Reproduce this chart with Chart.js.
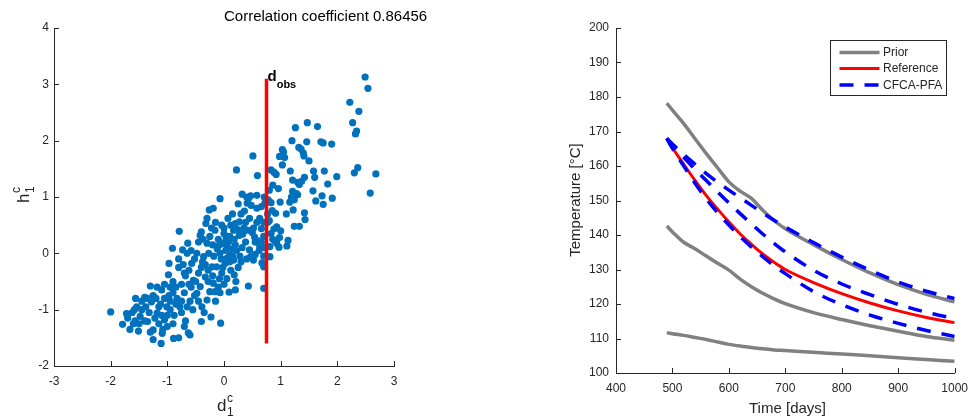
<!DOCTYPE html>
<html>
<head>
<meta charset="utf-8">
<script src="https://cdn.jsdelivr.net/npm/chart.js@4.4.1/dist/chart.umd.min.js"></script>
<style>
  html, body { margin: 0; padding: 0; background: #fff; }
  #wrap { position: relative; width: 976px; height: 420px; }
  canvas { position: absolute; top: 0; }
  #left { left: 0; }
  #right { left: 488px; }
</style>
</head>
<body>
<div id="wrap">
  <canvas id="left" width="488" height="420"></canvas>
  <canvas id="right" width="488" height="420"></canvas>
</div>
<script>
// left panel: d1c vs h1c samples
const scatterPoints = [
  [2.49,3.13],[2.54,2.93],[2.22,2.68],[2.38,2.52],[2.27,2.32],[2.34,2.17],[2.32,2.12],[2.36,1.52],[2.30,1.43],[2.68,1.41],[2.58,1.07],
  [1.47,2.32],[1.26,2.23],[1.65,2.25],[1.20,2.00],[1.46,1.98],[1.71,1.98],[1.75,1.96],[1.90,1.94],[1.32,1.88],[1.36,1.85],[1.40,1.78],[1.41,1.73],[1.50,1.64],
  [1.03,1.84],[1.05,1.80],[0.98,1.72],[1.07,1.70],[1.03,1.57],[0.51,1.73],
  [0.22,1.48],[0.59,1.38],[0.83,1.48],[0.88,1.44],[0.92,1.40],[1.17,1.46],[1.58,1.46],[1.77,1.46],[1.21,1.30],[1.42,1.35],[1.37,1.28],[1.33,1.22],[1.30,1.26],[1.60,1.35],[1.99,1.36],[1.83,1.23],
  [0.86,1.21],[0.96,1.15],[0.80,1.12],[1.21,1.10],[1.28,1.06],[1.30,1.04],[1.19,1.00],[1.57,1.11],[1.73,1.02],[1.91,0.98],[1.62,0.93],[1.75,0.87],[0.99,0.91],[0.83,0.90],[0.78,0.95],[1.16,0.91],[1.24,0.95],[0.74,0.95],
  [1.22,0.77],[1.42,0.72],[1.10,0.70],[1.43,0.60],[0.91,0.71],[0.85,0.76],[1.24,0.48],[1.33,0.48],[0.93,0.47],[1.00,0.40],[0.88,0.43],[0.77,0.70],[0.77,0.55],[0.80,0.58],
  [0.83,0.35],[0.98,0.28],[1.13,0.23],[1.11,0.13],[0.97,0.11],[0.90,0.22],[0.81,-0.06],[0.81,0.12],[0.86,0.25],[0.93,0.18],
  [0.70,-0.62],[0.66,0.44],[0.63,0.12],[0.70,-0.05],[0.67,-0.17],[0.70,-0.24],[0.71,1.00],[0.72,0.89],[0.66,0.83],[0.70,0.55],[0.70,0.30],[0.66,0.20],[0.72,0.10],[0.60,0.22],[0.63,0.62],[0.62,0.05],
  [0.32,1.05],[0.40,1.00],[0.47,1.02],[0.58,1.03],[0.43,0.97],[0.41,0.89],[0.36,0.75],[0.30,0.70],[0.27,0.56],[0.20,0.53],[0.42,0.41],[0.50,0.37],[0.54,0.29],[0.55,0.20],[0.35,0.45],[0.33,0.34],[0.24,0.42],[0.38,0.20],[0.45,0.06],[0.47,-0.06],[0.40,-0.10],[0.52,-0.12],[0.55,-0.02],
  [0.43,-0.58],[0.21,-0.50],[0.20,-0.65],[0.09,-0.69],[-0.07,-0.70],[0.18,-0.38],[0.25,-0.25],[0.12,-0.30],[0.30,-0.15],[0.10,-0.15],[0.05,-0.45],[-0.04,-0.35],[0.15,-0.05],
  [0.07,0.62],[-0.04,0.50],[-0.16,0.41],[0.17,0.41],[0.27,0.32],[0.10,0.30],[-0.02,0.18],[0.05,0.12],[-0.07,0.00],[0.11,-0.03],[0.17,-0.12],[0.02,-0.18],[-0.13,-0.24],[-0.27,0.00],[-0.36,-0.06],[-0.21,-0.24],[0.00,0.35],[-0.10,0.25],[-0.20,0.15],[0.03,0.05],[-0.05,-0.10],[0.08,0.20],[0.14,0.08],[-0.12,0.08],[-0.25,0.30],[-0.30,0.18],[-0.15,0.55],[0.00,0.45],[0.12,0.50],[0.20,0.15],
  [-0.07,0.97],[-0.19,0.80],[-0.26,0.77],[-0.32,0.53],[-0.42,0.32],[-0.37,0.25],[-0.45,0.20],[-0.40,0.38],[-0.30,0.62],
  [-0.33,-0.42],[-0.19,-0.53],[-0.42,-0.59],[-0.48,-0.71],[-0.30,-0.83],[-0.39,-0.95],[-0.06,-1.24],[-0.23,-1.13],[-0.40,-1.21],[-0.25,-0.68],[-0.15,-0.85],[-0.35,-1.05],[-0.45,-0.35],[-0.10,-0.60],[-0.28,-0.30],[-0.50,-0.50],[-0.20,-0.40],[-0.38,-0.15],[-0.08,-0.45],
  [-0.91,0.09],[-0.79,0.39],[-0.97,-0.18],[-0.98,-0.38],[-0.73,0.06],[-0.64,0.18],[-0.63,-1.41],[-0.60,-1.45],[-0.57,-0.18],[-0.54,-0.48],[-0.85,-0.60],[-0.83,-0.80],[-0.70,-0.70],[-0.65,-0.95],[-0.75,-1.05],[-0.60,-0.85],[-0.55,-1.00],[-0.68,-0.40],[-0.62,-0.30],[-0.80,-0.25],[-0.90,-0.50],[-0.72,-0.20],[-0.58,0.05],[-0.52,-0.10],[-0.78,-0.95],[-0.88,-1.10],[-0.95,-0.85],[-0.68,-1.20],[-0.58,-0.60],[-0.90,-0.70],
  [-2.00,-1.04],[-1.79,-1.26],[-1.72,-1.07],[-1.66,-1.35],[-1.56,-0.80],[-1.54,-0.95],[-1.57,-1.20],[-1.51,-1.38],[-1.48,-1.12],[-1.40,-1.20],[-1.35,-1.21],[-1.30,-0.58],[-1.28,-0.86],[-1.25,-1.36],[-1.25,-1.53],[-1.18,-1.06],[-1.11,-1.60],[-1.09,-1.42],[-1.05,-1.18],[-1.01,-0.95],[-0.97,-0.75],[-1.00,-1.30],[-0.89,-1.51],[-0.80,-1.50],[-1.60,-1.25],[-1.45,-1.00],[-1.38,-0.95],[-1.20,-0.80],[-1.15,-1.25],[-1.10,-0.65],[-1.05,-0.55],[-1.62,-1.05],[-1.70,-1.15],[-1.50,-1.25],[-1.32,-1.05],[-1.22,-1.15],[-1.12,-0.90],[-1.08,-1.35],[-0.95,-1.00],[-1.18,-0.60],[-1.40,-0.78],[-1.30,-1.40],[-1.58,-1.00],
  [-0.02,-0.25],[0.06,-0.08],[0.22,0.05],[0.28,-0.05],[-0.18,-0.05],[-0.08,0.15],[0.04,0.26],[0.18,0.25],[-0.22,0.45],[0.32,0.10],[-0.33,-0.20],[-0.28,-0.50],[-0.16,-0.68],[0.00,-0.55],[-0.45,-0.85],[-0.52,-0.75],[-0.62,-0.55],[-0.70,-0.35],[-0.75,-0.55],[-0.80,-0.10],[-0.65,0.00],[-0.48,0.00],[-0.40,-0.25],[0.38,0.55],[0.45,0.62],[0.52,0.45],[0.58,0.55],[0.48,0.85],[0.58,0.80],[0.25,0.88],[0.15,0.70],
  [-1.25,-0.75],[-1.15,-0.95],[-1.05,-0.80],[-0.95,-0.60],[-1.35,-0.80],[-1.45,-0.85],[-0.85,-0.90],[-0.75,-0.85],[-1.00,-1.10],[-1.10,-1.10],[-0.90,-1.25],[-0.70,-1.30]
];
const dObs = 0.75;
const dObsLine = [-1.6, 3.1];
const corrTitle = 'Correlation coefficient 0.86456';

// right panel: temperature curves
const timeDays  = [490, 500, 520, 540, 560, 580, 600, 620, 640, 660, 680, 700, 750, 800, 850, 900, 950, 1000];
const priorHigh = [178.2, 176.2, 172.3, 167.9, 163.6, 159.5, 155.4, 152.7, 150.6, 147.2, 144.2, 141.8, 137.2, 132.9, 129.0, 125.6, 122.8, 120.6];
const priorMid  = [142.6, 140.9, 137.9, 136.0, 133.9, 131.8, 129.8, 127.2, 125.0, 123.1, 121.5, 120.1, 117.5, 115.5, 113.7, 112.1, 110.6, 109.5];
const priorLow  = [111.7, 111.4, 110.9, 110.3, 109.7, 109.0, 108.3, 107.8, 107.4, 107.0, 106.7, 106.5, 106.0, 105.5, 105.0, 104.4, 103.9, 103.4];
const reference = [168.0, 165.3, 160.5, 155.8, 151.4, 147.5, 143.8, 140.3, 137.3, 134.5, 132.1, 130.0, 126.2, 123.0, 120.3, 118.0, 116.1, 114.6];
const cfcaHigh  = [168.0, 166.4, 163.3, 160.5, 157.8, 155.3, 153.0, 150.8, 148.6, 146.4, 144.3, 142.3, 137.8, 133.6, 129.8, 126.4, 123.7, 121.6];
const cfcaMid   = [168.0, 166.0, 162.5, 159.0, 155.8, 152.5, 149.3, 146.2, 143.2, 140.3, 137.6, 135.1, 129.8, 125.8, 122.7, 119.9, 117.6, 115.8];
const cfcaLow   = [168.0, 165.1, 160.0, 155.0, 150.5, 146.5, 142.9, 139.5, 136.5, 133.7, 131.1, 128.8, 123.6, 119.8, 116.8, 114.4, 112.3, 110.6];
const legendLabels = ['Prior', 'Reference', 'CFCA-PFA'];

const FONT = '"Liberation Sans", Arial, Helvetica, sans-serif';
const AXIS = '#262626';
const GRAY = '#808080';
const BLUE_DASH = [14, 11];

Chart.defaults.font.family = FONT;
Chart.defaults.color = AXIS;

function axisOpts(min, max, step, fitSize, pad, isX) {
  return {
    type: 'linear', min: min, max: max,
    ticks: { stepSize: step, font: { size: 12 }, color: AXIS, padding: pad, callback: v => String(v) },
    grid: { display: false, drawTicks: false },
    border: { display: true, color: AXIS, width: 1 },
    afterFit: s => { if (isX) s.height = fitSize; else s.width = fitSize; }
  };
}

// matlab style ticks pointing into the axes
const inwardTicks = {
  id: 'inwardTicks',
  afterDraw(chart) {
    const { ctx, chartArea: a, scales: { x, y } } = chart;
    ctx.save();
    ctx.strokeStyle = AXIS;
    ctx.lineWidth = 1;
    ctx.beginPath();
    x.ticks.forEach(t => {
      const px = Math.round(x.getPixelForValue(t.value)) + 0.5;
      ctx.moveTo(px, a.bottom);
      ctx.lineTo(px, a.bottom - 5);
    });
    y.ticks.forEach(t => {
      const py = Math.round(y.getPixelForValue(t.value)) + 0.5;
      ctx.moveTo(a.left, py);
      ctx.lineTo(a.left + 5, py);
    });
    ctx.stroke();
    ctx.restore();
  }
};

function drawScripted(ctx, base, sup, sub, x, y) {
  ctx.font = '17px ' + FONT;
  ctx.fillText(base, x, y);
  const w = ctx.measureText(base).width;
  ctx.font = '12px ' + FONT;
  ctx.fillText(sup, x + w + 0.5, y - 9);
  ctx.fillText(sub, x + w + 0.5, y + 5);
}

const leftLabels = {
  id: 'leftLabels',
  afterDraw(chart) {
    const { ctx, scales: { x, y } } = chart;
    ctx.save();
    ctx.textBaseline = 'alphabetic';
    ctx.textAlign = 'left';
    ctx.fillStyle = '#000';
    ctx.font = '15px ' + FONT;
    ctx.fillText(corrTitle, 224, 21);

    const px = x.getPixelForValue(dObs);
    const py = y.getPixelForValue(dObsLine[1]);
    ctx.font = 'bold 15px ' + FONT;
    ctx.fillText('d', px + 1, py + 2);
    const w = ctx.measureText('d').width;
    ctx.font = 'bold 11px ' + FONT;
    ctx.fillText('obs', px + 1 + w, py + 9.5);

    ctx.fillStyle = AXIS;
    drawScripted(ctx, 'd', 'c', '1', 217, 411);
    ctx.translate(29, 203);
    ctx.rotate(-Math.PI / 2);
    drawScripted(ctx, 'h', 'c', '1', 0, 0);
    ctx.restore();
  }
};

const rightLabels = {
  id: 'rightLabels',
  afterDraw(chart) {
    const { ctx } = chart;
    ctx.save();
    ctx.fillStyle = AXIS;
    ctx.font = '15px ' + FONT;
    ctx.textAlign = 'center';
    ctx.textBaseline = 'alphabetic';
    ctx.fillText('Time [days]', 299.5, 413);
    ctx.save();
    ctx.translate(91.5, 200);
    ctx.rotate(-Math.PI / 2);
    ctx.fillText('Temperature [\u00B0C]', 0, 0);
    ctx.restore();

    // legend box
    const bx = 342.5, by = 40.5, bw = 116, bh = 55;
    ctx.fillStyle = '#fff';
    ctx.fillRect(bx, by, bw, bh);
    ctx.strokeStyle = AXIS;
    ctx.lineWidth = 1;
    ctx.strokeRect(bx, by, bw, bh);
    const ds = chart.data.datasets;
    const samples = [ds[0], ds[3], ds[4]];
    const rows = [52.5, 68.5, 85];
    samples.forEach((d, i) => {
      ctx.beginPath();
      ctx.strokeStyle = d.borderColor;
      ctx.lineWidth = d.borderWidth;
      ctx.setLineDash(d.borderDash || []);
      ctx.moveTo(351.5, rows[i]);
      ctx.lineTo(391.5, rows[i]);
      ctx.stroke();
      ctx.setLineDash([]);
      ctx.fillStyle = AXIS;
      ctx.font = '12px ' + FONT;
      ctx.textAlign = 'left';
      ctx.textBaseline = 'middle';
      ctx.fillText(legendLabels[i], 395, rows[i] + 0.5);
    });
    ctx.restore();
  }
};

new Chart(document.getElementById('left'), {
  type: 'scatter',
  data: {
    datasets: [
      {
        type: 'line',
        data: dObsLine.map(v => ({ x: dObs, y: v })),
        borderColor: '#ff0000',
        borderWidth: 3.5,
        pointRadius: 0,
        order: 0
      },
      {
        data: scatterPoints.map(p => ({ x: p[0], y: p[1] })),
        backgroundColor: '#0072BD',
        borderWidth: 0,
        pointRadius: 3.6,
        order: 1
      }
    ]
  },
  options: {
    responsive: false,
    animation: false,
    devicePixelRatio: 1,
    layout: { padding: { left: 0, right: 94, top: 28, bottom: 0 } },
    plugins: { legend: { display: false }, tooltip: { enabled: false } },
    scales: {
      x: axisOpts(-3, 3, 1, 54, 8, true),
      y: axisOpts(-2, 4, 1, 54, 5, false)
    }
  },
  plugins: [inwardTicks, leftLabels]
});

function curve(values, color, width, dash, order) {
  return {
    data: timeDays.map((t, i) => ({ x: t, y: values[i] })),
    borderColor: color,
    borderWidth: width,
    borderDash: dash,
    borderCapStyle: 'butt',
    pointRadius: 0,
    cubicInterpolationMode: 'monotone',
    fill: false,
    order: order
  };
}

new Chart(document.getElementById('right'), {
  type: 'line',
  data: {
    datasets: [
      curve(priorHigh, GRAY, 3.5, [], 2),
      curve(priorMid, GRAY, 3.5, [], 2),
      curve(priorLow, GRAY, 3.5, [], 2),
      curve(reference, '#ff0000', 3, [], 1),
      curve(cfcaHigh, '#0000ff', 3.5, BLUE_DASH, 0),
      curve(cfcaMid, '#0000ff', 3.5, BLUE_DASH, 0),
      curve(cfcaLow, '#0000ff', 3.5, BLUE_DASH, 0)
    ]
  },
  options: {
    responsive: false,
    animation: false,
    devicePixelRatio: 1,
    layout: { padding: { left: 0, right: 15, top: 28, bottom: 0 } },
    plugins: { legend: { display: false }, tooltip: { enabled: false } },
    scales: {
      x: axisOpts(400, 1000, 100, 47, 8, true),
      y: axisOpts(100, 200, 10, 128, 7, false)
    }
  },
  plugins: [inwardTicks, rightLabels]
});
</script>
</body>
</html>
